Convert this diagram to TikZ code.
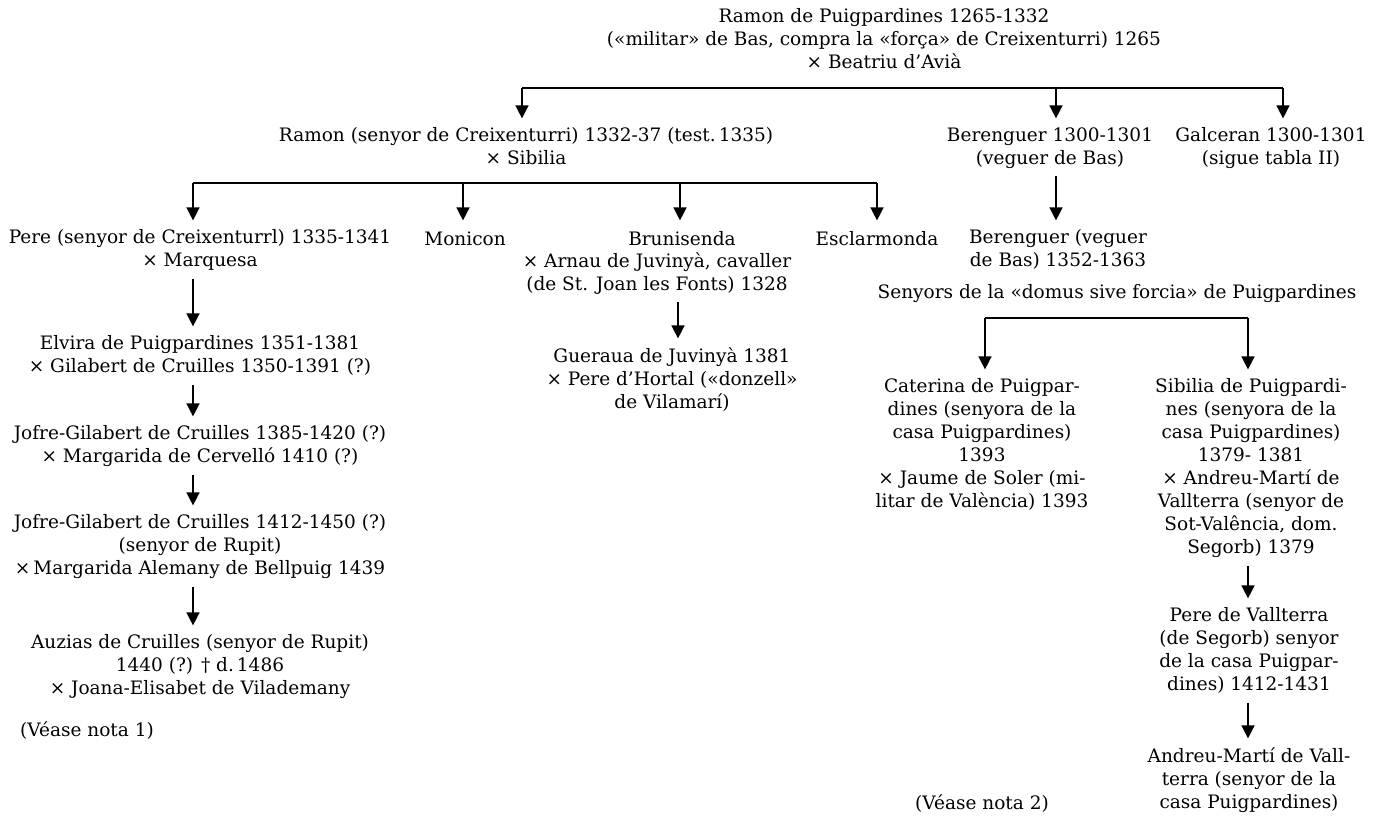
\documentclass[tikz,border=0pt]{standalone}
\usepackage{fontspec}
\setmainfont{DejaVu Serif}
\usetikzlibrary{arrows.meta}
\begin{document}
\begin{tikzpicture}[x=1pt,y=-1pt,
  nd/.style={anchor=north, yshift=9.6pt, inner sep=0pt, align=center,
    font=\fontsize{18.5}{23}\selectfont,
    execute at begin node=\strut, execute at end node=\strut},
  ndl/.style={nd, anchor=north west},
  bar/.style={line width=2pt},
  arr/.style={line width=1.5pt, -{Triangle[width=13pt,length=13pt]}, shorten >=9pt},
  arrs/.style={arr, shorten <=5pt}]
\useasboundingbox (0,0) rectangle (1374,825);

% generation 1
\node[nd] (top) at (884,18) {Ramon de Puigpardines 1265-1332\\(«militar» de Bas, compra la «força» de Creixenturri) 1265\\× Beatriu d’Avià};

% generation 2
\node[nd] (ramon) at (526,137) {Ramon (senyor de Creixenturri) 1332-37 (test.\,1335)\\× Sibilia};
\node[nd] (ber1) at (1050,137) {Berenguer 1300-1301\\(veguer de Bas)};
\node[nd] (galc) at (1271,137) {Galceran 1300-1301\\(sigue tabla II)};

% generation 3
\node[nd] (pere) at (200,239) {Pere (senyor de Creixenturrl) 1335-1341\\× Marquesa};
\node[nd] (monicon) at (465,239) {Monicon};
\node[nd] (brun) at (682,239) {Brunisenda};
\node[nd] (brunsp) at (657,262) {× Arnau de Juvinyà, cavaller\\(de St. Joan les Fonts) 1328};
\node[nd] (escl) at (877,239) {Esclarmonda};
\node[nd] (ber2) at (1058,239) {Berenguer (veguer\\de Bas) 1352-1363};

\node[nd] (guer) at (672,357) {Gueraua de Juvinyà 1381\\× Pere d’Hortal («donzell»\\de Vilamarí)};

% left column
\node[nd] (elvira) at (200,345) {Elvira de Puigpardines 1351-1381\\× Gilabert de Cruilles 1350-1391 (?)};
\node[nd] (jofre1) at (200,435) {Jofre-Gilabert de Cruilles 1385-1420 (?)\\× Margarida de Cervelló 1410 (?)};
\node[nd] (jofre2) at (200,524) {Jofre-Gilabert de Cruilles 1412-1450 (?)\\(senyor de Rupit)\\×\,Margarida Alemany de Bellpuig 1439};
\node[nd] (auzias) at (200,644) {Auzias de Cruilles (senyor de Rupit)\\1440 (?) † d.\,1486\\× Joana-Elisabet de Vilademany};
\node[ndl] (nota1) at (20,730) {(Véase nota 1)};

% right block
\node[nd] (senyors) at (1117,292) {Senyors de la «domus sive forcia» de Puigpardines};
\node[nd] (cat) at (982,388) {Caterina de Puigpar-\\dines (senyora de la\\casa Puigpardines)\\1393\\× Jaume de Soler (mi-\\litar de València) 1393};
\node[nd] (sib) at (1251,388) {Sibilia de Puigpardi-\\nes (senyora de la\\casa Puigpardines)\\1379- 1381\\× Andreu-Martí de\\Vallterra (senyor de\\Sot-Valência, dom.\\Segorb) 1379};
\node[nd] (pval) at (1249,617) {Pere de Vallterra\\(de Segorb) senyor\\de la casa Puigpar-\\dines) 1412-1431};
\node[nd] (andreu) at (1249,757) {Andreu-Martí de Vall-\\terra (senyor de la\\casa Puigpardines)};
\node[nd] (nota2) at (982,803) {(Véase nota 2)};

% bars
\coordinate (b1a) at (522,88);
\coordinate (b1b) at (1056,88);
\coordinate (b1c) at (1283,88);
\draw[bar] (b1a) -- (b1c);
\draw[arr] (b1a) -- (b1a |- ramon.north);
\draw[arr] (b1b) -- (b1b |- ber1.north);
\draw[arr] (b1c) -- (b1c |- galc.north);

\coordinate (b2a) at (193,183);
\coordinate (b2b) at (463,183);
\coordinate (b2c) at (680,183);
\coordinate (b2d) at (877,183);
\draw[bar] (b2a) -- (b2d);
\draw[arr] (b2a) -- (b2a |- pere.north);
\draw[arr] (b2b) -- (b2b |- monicon.north);
\draw[arr] (b2c) -- (b2c |- brun.north);
\draw[arr] (b2d) -- (b2d |- escl.north);

\coordinate (b3a) at (985,318);
\coordinate (b3b) at (1248,318);
\draw[bar] (b3a) -- (b3b);
\draw[arr] (b3a) -- (b3a |- cat.north);
\draw[arr] (b3b) -- (b3b |- sib.north);

% single descents
\coordinate (colL) at (193,0);
\coordinate (colB) at (1056,0);
\coordinate (colM) at (678,0);
\coordinate (colR) at (1248,0);
\draw[arrs] (ber1.south -| colB) -- (ber2.north -| colB);
\draw[arrs] (brunsp.south -| colM) -- (guer.north -| colM);
\draw[arrs] (pere.south -| colL) -- (elvira.north -| colL);
\draw[arrs] (elvira.south -| colL) -- (jofre1.north -| colL);
\draw[arrs] (jofre1.south -| colL) -- (jofre2.north -| colL);
\draw[arrs] (jofre2.south -| colL) -- (auzias.north -| colL);
\draw[arrs] (sib.south -| colR) -- (pval.north -| colR);
\draw[arrs] (pval.south -| colR) -- (andreu.north -| colR);
\end{tikzpicture}
\end{document}
